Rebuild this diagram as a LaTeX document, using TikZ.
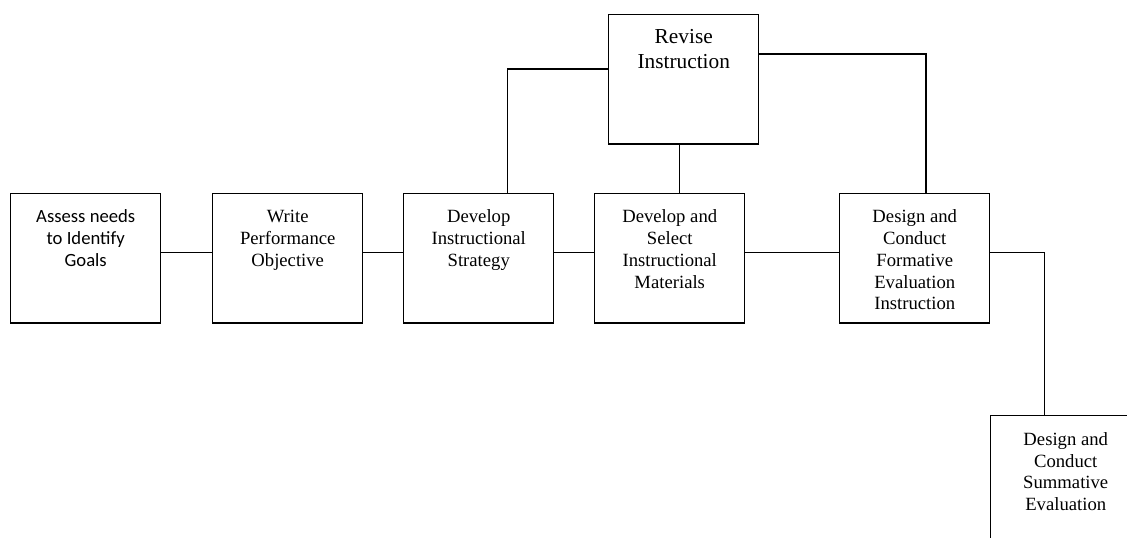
\documentclass[tikz,border=0pt]{standalone}
\usepackage{fontspec}
\setmainfont{Liberation Serif}
\newfontfamily\calibrifont{Carlito}

\begin{document}
\begin{tikzpicture}[x = 0.75pt, y = -0.75pt, line width = 1.1pt,
	stage/.style = {draw, minimum width = 112.5pt, minimum height = 97pt, inner sep = 0, anchor = north west},
	caption/.style = {anchor = north, inner sep = 0, align = center, font = \fontsize{14}{16.3}\selectfont}]

\useasboundingbox (0, 0) rectangle (1127, 538);
\clip (0, 0) rectangle (1127, 538);

	% Stages of the design process

	\node [stage] (assess) at (10, 193) {};
	\node [stage] (objective) at (212, 193) {};
	\node [stage] (strategy) at (403, 193) {};
	\node [stage] (materials) at (594, 193) {};
	\node [stage] (formative) at (839, 193) {};
	\node [stage] (revise) at (608, 14) {};
	\node [stage] (summative) at (990, 415) {};

	% Stage labels

	\node [caption, font = \calibrifont\fontsize{14}{16.3}\selectfont] (assesstext) at ([yshift = -10.4pt] assess.north) {\strut Assess needs\\to Identify\\Goals};
	\node [caption] (objectivetext) at ([yshift = -10.4pt] objective.north) {\strut Write\\Performance\\Objective};
	\node [caption] (strategytext) at ([yshift = -10.4pt] strategy.north) {\strut Develop\\Instructional\\Strategy};
	\node [caption] (materialstext) at ([yshift = -10.4pt] materials.north) {\strut Develop and\\Select\\Instructional\\Materials};
	\node [caption] (formativetext) at ([yshift = -10.4pt] formative.north) {\strut Design and\\Conduct\\Formative\\Evaluation\\Instruction};
	\node [caption, font = \fontsize{16}{18.75}\selectfont] (revisetext) at ([yshift = -8.6pt] revise.north) {\strut Revise\\Instruction};
	\node [caption] (summativetext) at ([yshift = -10.9pt] summative.north) {\strut Design and\\Conduct\\Summative\\Evaluation};

	% Main row connectors

	\draw ([yshift = 4.3pt] assess.east) -- ([yshift = 4.3pt] objective.west);
	\draw ([yshift = 4.3pt] objective.east) -- ([yshift = 4.3pt] strategy.west);
	\draw ([yshift = 4.3pt] strategy.east) -- ([yshift = 4.3pt] materials.west);
	\draw ([yshift = 4.3pt] materials.east) -- ([yshift = 4.3pt] formative.west);
	\draw ([yshift = 4.3pt] formative.east) -| ([xshift = -15.75pt] summative.north);

	% Revision loop

	\draw ([yshift = 7.9pt] revise.west) -| ([xshift = 21.4pt] strategy.north);
	\draw ([xshift = 7.5pt] materials.north) -- ([xshift = 7.5pt] materials.north |- revise.south);
	\draw ([yshift = 19.1pt] revise.east) -| ([xshift = 8.6pt] formative.north);

\end{tikzpicture}
\end{document}
